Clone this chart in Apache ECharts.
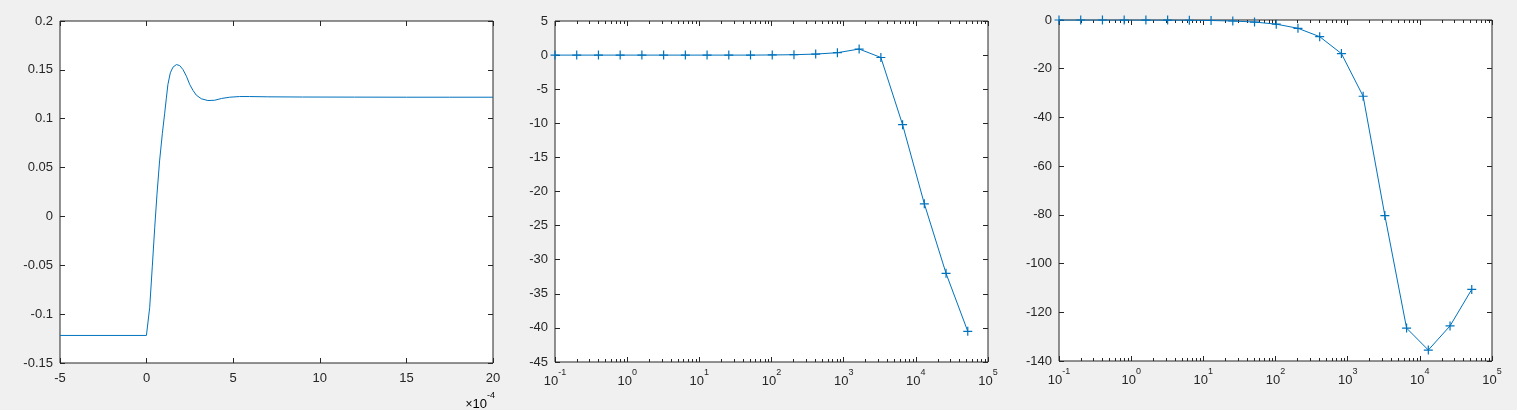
<!DOCTYPE html>
<html>
<head>
<meta charset="utf-8">
<script src="https://cdn.jsdelivr.net/npm/echarts@6/dist/echarts.min.js"></script>
<style>
  html, body { margin: 0; padding: 0; background: #f0f0f0; }
  #chart { width: 1517px; height: 410px; }
</style>
</head>
<body>
<div id="chart"></div>
<script>
// ---------- data ----------
// Panel 1: step response, time in units of 1e-4 s
const stepTime = [-5, -0.01, 0.02, 0.18, 0.33, 0.47, 0.60, 0.75, 0.91, 1.04, 1.14, 1.23, 1.37, 1.52, 1.72, 1.91, 2.10, 2.30, 2.49, 2.68, 2.87, 3.16, 3.54, 3.93, 4.32, 4.80, 5.37, 5.95, 7, 9, 12, 15, 17.5, 20];
const stepValue = [-0.1218, -0.1218, -0.120, -0.093, -0.051, -0.011, 0.0228, 0.0568, 0.085, 0.105, 0.121, 0.135, 0.147, 0.1527, 0.1554, 0.1544, 0.1503, 0.1435, 0.135, 0.1289, 0.1241, 0.1204, 0.1186, 0.1189, 0.1207, 0.1220, 0.1227, 0.1227, 0.1224, 0.1222, 0.1221, 0.1220, 0.1220, 0.1220];

// Panels 2 and 3: frequency response
const freq = [0.1, 0.2, 0.4, 0.8, 1.6, 3.2, 6.4, 12.8, 25.6, 51.2, 102.4, 204.8, 409.6, 819.2, 1638.4, 3276.8, 6553.6, 13107.2, 26214.4, 52428.8];
const magDb = [0, 0, 0, 0, 0, 0, 0, 0, 0, 0, 0.02, 0.06, 0.15, 0.35, 0.89, -0.35, -10.2, -21.8, -32.0, -40.5];
const phaseDeg = [-0.002, -0.003, -0.007, -0.013, -0.027, -0.05, -0.1, -0.21, -0.42, -0.84, -1.7, -3.4, -6.85, -13.8, -31.3, -80.3, -126.5, -135.5, -125.6, -110.6];

// Axis tick structure
const logDecades = [0.1, 1, 10, 100, 1000, 10000];
const logMinorMultipliers = [2, 3, 4, 5, 6, 7, 8, 9];
const stepAxisX = { min: -5, max: 20, interval: 5 };
const stepAxisY = { min: -0.15, max: 0.2, interval: 0.05 };
const magAxisY = { min: -45, max: 5, interval: 5 };
const phaseAxisY = { min: -140, max: 0, interval: 20 };
const freqAxis = { min: 0.1, max: 100000 };
const stepExponentLabel = '-4';

// ---------- styling ----------
const FONT = 'Liberation Sans, Arial, sans-serif';
const AX = '#262626';
const LINE = '#0072BD';

const minorTicks = [];
logDecades.forEach(d => logMinorMultipliers.forEach(m => minorTicks.push([d * m, 0])));

const richLabel = {
  b: { fontSize: 13, color: AX, fontFamily: FONT, lineHeight: 20, verticalAlign: 'bottom' },
  s: { fontSize: 9, color: AX, fontFamily: FONT, lineHeight: 8, verticalAlign: 'top' },
  m: { fontSize: 12, color: AX, fontFamily: FONT, lineHeight: 20, verticalAlign: 'bottom' }
};
function logLabel(v) {
  const n = Math.round(Math.log10(v));
  return '{b|10}{s|' + n + '}';
}

const grids = [
  { left: 60, top: 21, width: 433, height: 342 },
  { left: 555, top: 21, width: 433, height: 341 },
  { left: 1059, top: 20, width: 433, height: 341 }
].map(g => Object.assign({ show: true, backgroundColor: '#ffffff', borderColor: AX, borderWidth: 1, containLabel: false, outerBoundsMode: 'none' }, g));

const tickStyle = { show: true, inside: true, length: 5, lineStyle: { color: AX, width: 1 } };
const labelStyle = { color: AX, fontSize: 13, fontFamily: FONT };
const noLine = { show: false, onZero: false };

function xPair(gi, spec, isLog) {
  const base = isLog
    ? { type: 'log', logBase: 10, min: spec.min, max: spec.max }
    : { type: 'value', min: spec.min, max: spec.max, interval: spec.interval };
  const bottom = Object.assign({}, base, {
    gridIndex: gi, position: 'bottom',
    axisLine: noLine, splitLine: { show: false },
    axisTick: tickStyle,
    axisLabel: isLog
      ? { show: true, margin: 6, formatter: logLabel, rich: richLabel, showMinLabel: true, showMaxLabel: true }
      : Object.assign({ margin: 9, showMinLabel: true, showMaxLabel: true }, labelStyle)
  });
  const top = Object.assign({}, base, {
    gridIndex: gi, position: 'top',
    axisLine: noLine, splitLine: { show: false },
    axisTick: tickStyle, axisLabel: { show: false }
  });
  return [bottom, top];
}
function yPair(gi, spec) {
  const base = { type: 'value', min: spec.min, max: spec.max, interval: spec.interval };
  const left = Object.assign({}, base, {
    gridIndex: gi, position: 'left',
    axisLine: noLine, splitLine: { show: false },
    axisTick: tickStyle,
    axisLabel: Object.assign({ margin: 7, showMinLabel: true, showMaxLabel: true }, labelStyle)
  });
  const right = Object.assign({}, base, {
    gridIndex: gi, position: 'right',
    axisLine: noLine, splitLine: { show: false },
    axisTick: tickStyle, axisLabel: { show: false }
  });
  return [left, right];
}

const xAxes = [].concat(xPair(0, stepAxisX, false), xPair(1, freqAxis, true), xPair(2, freqAxis, true));
const yAxes = [].concat(yPair(0, stepAxisY), yPair(1, magAxisY), yPair(2, phaseAxisY));

const plusSymbol = 'path://M5,0L5,10M0,5L10,5';

function minorTickRenderer(yMin, yMax) {
  return function (params, api) {
    const v = api.value(0);
    const b = api.coord([v, yMin]);
    const t = api.coord([v, yMax]);
    const x = Math.round(b[0]) + 0.5;
    const L = 3;
    const st = { stroke: AX, lineWidth: 1 };
    return {
      type: 'group',
      children: [
        { type: 'line', shape: { x1: x, y1: b[1], x2: x, y2: b[1] - L }, style: st },
        { type: 'line', shape: { x1: x, y1: t[1], x2: x, y2: t[1] + L }, style: st }
      ]
    };
  };
}

function zip(a, b) { return a.map((v, i) => [v, b[i]]); }

const series = [
  {
    type: 'line', xAxisIndex: 0, yAxisIndex: 0,
    data: zip(stepTime, stepValue),
    showSymbol: false, smooth: false,
    lineStyle: { color: LINE, width: 1 }, silent: true, animation: false
  },
  {
    type: 'line', xAxisIndex: 2, yAxisIndex: 2,
    data: zip(freq, magDb),
    symbol: plusSymbol, symbolSize: 9, showAllSymbol: true,
    itemStyle: { color: LINE, borderColor: LINE, borderWidth: 1.2 },
    lineStyle: { color: LINE, width: 1 }, silent: true, animation: false
  },
  {
    type: 'line', xAxisIndex: 4, yAxisIndex: 4,
    data: zip(freq, phaseDeg),
    symbol: plusSymbol, symbolSize: 9, showAllSymbol: true,
    itemStyle: { color: LINE, borderColor: LINE, borderWidth: 1.2 },
    lineStyle: { color: LINE, width: 1 }, silent: true, animation: false
  },
  {
    type: 'custom', xAxisIndex: 2, yAxisIndex: 2, data: minorTicks,
    renderItem: minorTickRenderer(magAxisY.min, magAxisY.max), silent: true, animation: false, clip: false
  },
  {
    type: 'custom', xAxisIndex: 4, yAxisIndex: 4, data: minorTicks,
    renderItem: minorTickRenderer(phaseAxisY.min, phaseAxisY.max), silent: true, animation: false, clip: false
  }
];

const chart = echarts.init(document.getElementById('chart'), null, { renderer: 'canvas' });
chart.setOption({
  backgroundColor: '#f0f0f0',
  animation: false,
  textStyle: { fontFamily: FONT },
  grid: grids,
  xAxis: xAxes,
  yAxis: yAxes,
  series: series,
  graphic: [{
    type: 'text', right: 1517 - 495, top: 391, silent: true,
    style: { text: '{m|×}{b|10}{s|' + stepExponentLabel + '}', rich: richLabel }
  }]
});
</script>
</body>
</html>
